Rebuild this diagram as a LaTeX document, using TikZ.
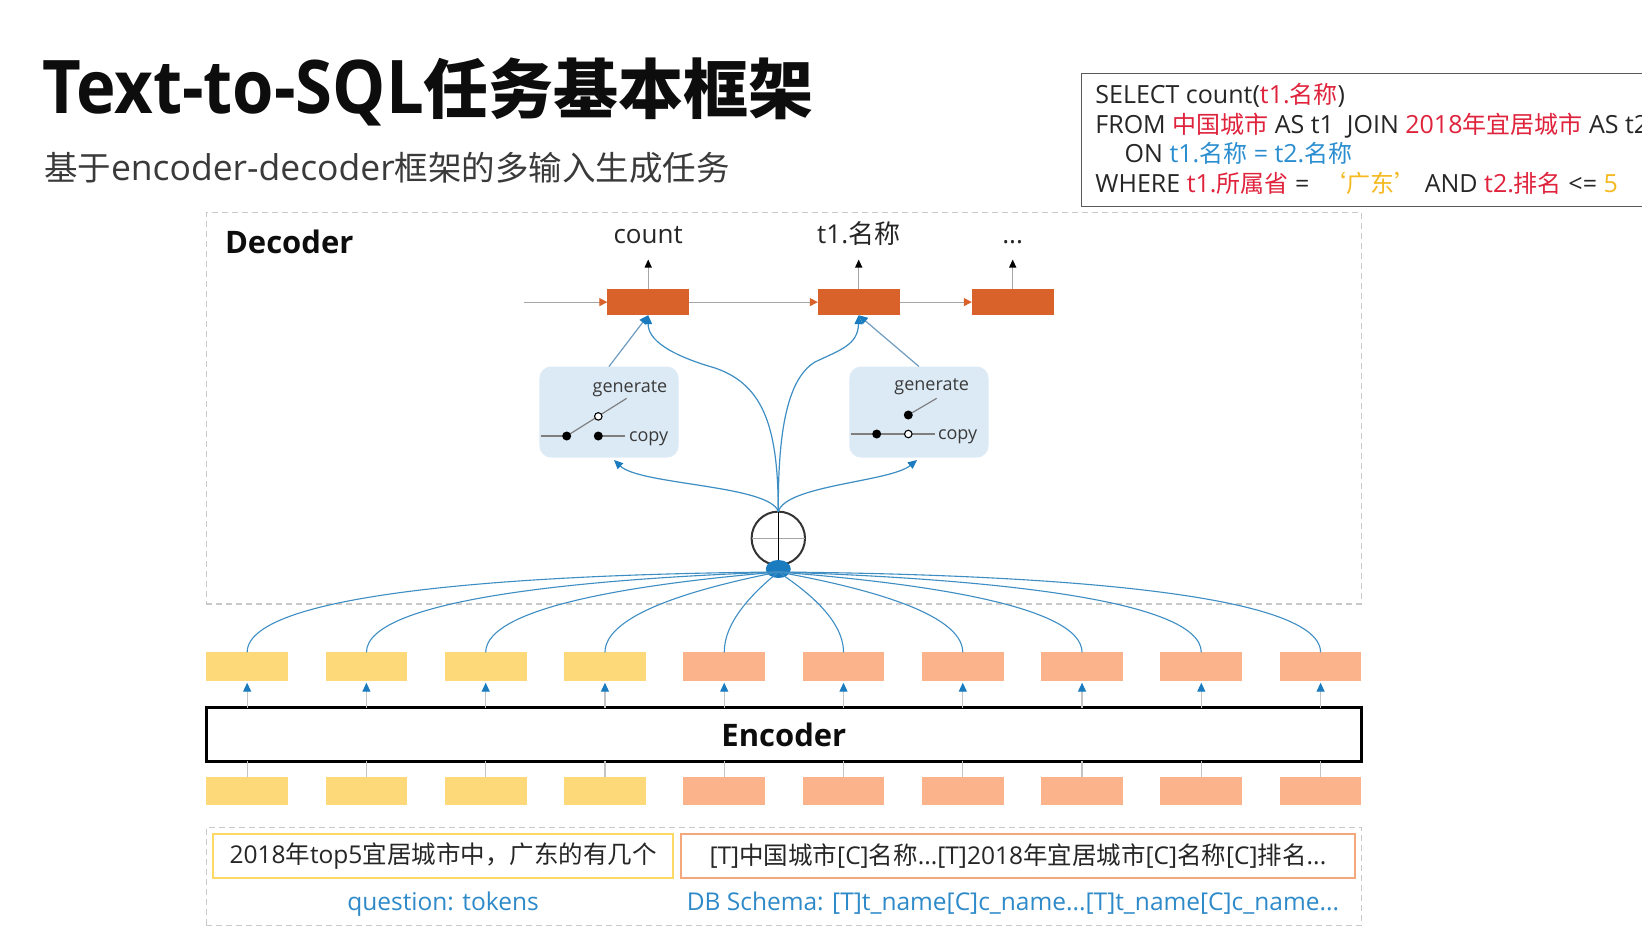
\documentclass[tikz,border=0pt]{standalone}
\usepackage{graphicx}
\usepackage{fontspec}
\setmainfont{Open Sans}
\newfontfamily\cjk{Noto Sans CJK SC}
\usetikzlibrary{arrows.meta}
% CJK run at the current size, or at an explicit size
\newcommand\C[1]{{\cjk #1}}
\newcommand\Cf[2]{{\cjk\fontsize{#1}{#1}\selectfont #2}}
\newcommand\fsz[1]{\fontsize{#1}{#1}\selectfont}

\definecolor{titleBlack}{HTML}{0D0D0D}
\definecolor{txtGrey}{HTML}{262626}
\definecolor{subGrey}{HTML}{3A3A3A}
\definecolor{decOrange}{HTML}{D9622B}
\definecolor{encYellow}{HTML}{FED97A}
\definecolor{encSalmon}{HTML}{FBB38B}
\definecolor{swBlue}{HTML}{DCEAF6}
\definecolor{lineBlue}{HTML}{3E8EC4}
\definecolor{tipBlue}{HTML}{1A7BBF}
\definecolor{gateLine}{HTML}{6E9CC0}
\definecolor{greyLine}{HTML}{A6A6A6}
\definecolor{lightLine}{HTML}{C4C4C4}
\definecolor{wireGrey}{HTML}{7F7F7F}
\definecolor{dashGrey}{HTML}{C9C9C9}
\definecolor{qBorder}{HTML}{FFD966}
\definecolor{sBorder}{HTML}{F4A77A}
\definecolor{labelBlue}{HTML}{2F8AC9}
\definecolor{sqlRed}{HTML}{E0233C}
\definecolor{sqlBlue}{HTML}{2B8ED0}
\definecolor{sqlYellow}{HTML}{F5B921}
\definecolor{sqlFrame}{HTML}{595959}

\begin{document}
\begin{tikzpicture}[x=1pt,y=-1pt,
  every node/.style={inner sep=0pt,outer sep=0pt,text=txtGrey},
  cellD/.style={fill=decOrange,minimum width=81.7pt,minimum height=26.2pt},
  cellE/.style={minimum width=81.7pt,minimum height=28.3pt},
  switchbox/.style={fill=swBlue,rounded corners=12pt,minimum width=139.3pt,minimum height=91.1pt},
  dashframe/.style={draw=dashGrey,line width=1.5pt,dash pattern=on 6pt off 4pt},
  recur/.style={draw=greyLine,line width=1.2pt,-{Triangle[length=8pt,width=8pt,color=decOrange]}},
  outarrow/.style={draw=greyLine,line width=1.2pt,-{Triangle[length=8pt,width=7pt,color=black]}},
  feed/.style={draw=lineBlue,line width=1.2pt,-{Triangle[length=9pt,width=8pt,color=tipBlue]}},
  gate/.style={draw=gateLine,line width=1.2pt,-{Triangle[length=9pt,width=8pt,color=tipBlue]}},
  fan/.style={draw=lineBlue,line width=1.1pt},
  encup/.style={draw=lightLine,line width=1.2pt,-{Triangle[length=9pt,width=8pt,color=tipBlue]},shorten >=2pt},
  encdown/.style={draw=lightLine,line width=1.2pt},
  wire/.style={draw=wireGrey,line width=1.2pt},
  contact/.style={circle,fill=black,minimum size=9pt},
  opencontact/.style={circle,draw=black,fill=white,line width=1.1pt,minimum size=7.5pt},
  swtext/.style={font=\fsz{18},text=subGrey},
  sqltext/.style={anchor=base west,font=\fsz{25},text=txtGrey}]

\useasboundingbox (0,0) rectangle (1642,932);
\clip (0,0) rectangle (1642,932);
\fill[white] (0,0) rectangle (1642,932);

% ---------- heading ----------
\node[anchor=base west,text=titleBlack] (title) at (42,113)
  {\fsz{74}\bfseries\scalebox{0.905}[1]{Text-to-SQL}\Cf{65}{任务基本框架}};
\node[anchor=base west,text=subGrey] (subtitle) at (44,180)
  {\fsz{35.5}\Cf{33.5}{基于}encoder-decoder\Cf{33.5}{框架的多输入生成任务}};

% ---------- SQL example ----------
\node[draw=sqlFrame,line width=1.5pt,anchor=north west,minimum width=590pt,minimum height=133pt] (sql) at (1081.7,73.3) {};
\node[sqltext] (sql1) at (1095.4,103.8)
  {SELECT count(\textcolor{sqlRed}{t1.\Cf{24}{名称}})};
\node[sqltext] (sql2) at (1095.4,133.1)
  {FROM \textcolor{sqlRed}{\Cf{24}{中国城市}} AS t1\ \ JOIN \textcolor{sqlRed}{2018\Cf{24}{年宜居城市}} AS t2};
\node[sqltext] (sql3) at (1124.7,162.4)
  {ON \textcolor{sqlBlue}{t1.\Cf{24}{名称} = t2.\Cf{24}{名称}}};
\node[sqltext] (sql4) at (1095.4,192.8)
  {WHERE \textcolor{sqlRed}{t1.\Cf{24}{所属省}} =\ \ \textcolor{sqlYellow}{\Cf{24}{‘广东’}} AND \textcolor{sqlRed}{t2.\Cf{24}{排名}} <= \textcolor{sqlYellow}{5}};

% ---------- decoder ----------
\node[dashframe,anchor=north west,minimum width=1155.1pt,minimum height=391.6pt] (decframe) at (206.3,212.6) {};
\node[anchor=base west,text=titleBlack] (declabel) at (225,253) {\fsz{31}\bfseries Decoder};

\node[cellD] (d1) at (648.2,302.1) {};
\node[cellD] (d2) at (858.7,302.1) {};
\node[cellD] (d3) at (1012.7,302.1) {};
\coordinate (din) at (523.6,302.1);
\draw[recur] (din) -- (d1.west);
\draw[recur] (d1.east) -- (d2.west);
\draw[recur] (d2.east) -- (d3.west);

\node[anchor=base] (o1) at (648.2,243) {\fsz{26}count};
\node[anchor=base] (o2) at (858.7,243) {\fsz{26}t1.\C{名称}};
\node[anchor=base] (o3) at (1012.7,243) {\fsz{26}...};
\coordinate (o1tip) at (648.2,259.5);
\coordinate (o2tip) at (858.7,259.5);
\coordinate (o3tip) at (1012.7,259.5);
\draw[outarrow] (d1.north) -- (o1tip);
\draw[outarrow] (d2.north) -- (o2tip);
\draw[outarrow] (d3.north) -- (o3tip);

% copy / generate switches
\node[switchbox] (sw1) at (609,412.05) {};
\node[switchbox] (sw2) at (918.95,412.05) {};

% switch 1: arm thrown towards generate
\coordinate (s1lead) at (540.5,436);
\coordinate (s1copy) at (625,436);
\coordinate (s1arm) at (626.7,398.3);
\draw[wire] (s1lead) -- (566.7,436);
\draw[wire] (566.7,436) -- (s1arm);
\draw[wire] (598.3,436) -- (s1copy);
\node[contact] (s1a) at (566.7,436) {};
\node[contact] (s1c) at (598.3,436) {};
\node[opencontact] (s1g) at (598.3,416.4) {};
\node[swtext,anchor=base] (s1gen) at (630,392) {generate};
\node[swtext,anchor=base west] (s1cp) at (629,441) {copy};

% switch 2: arm on the generate contact, copy line open
\coordinate (s2lead) at (850.5,434);
\coordinate (s2copy) at (935,434);
\coordinate (s2arm) at (936.7,398.3);
\draw[wire] (s2lead) -- (s2copy);
\node[contact] (s2a) at (876.7,434) {};
\node[opencontact] (s2c) at (908.3,434) {};
\node[contact] (s2g) at (908.3,415) {};
\draw[wire] (s2g) -- (s2arm);
\node[swtext,anchor=base] (s2gen) at (931.7,390) {generate};
\node[swtext,anchor=base west] (s2cp) at (938,439) {copy};

% attention sum node
\node[circle,draw=black!80,line width=2pt,minimum size=53.4pt] (circ) at (778.3,538.3) {};
\draw[draw=greyLine,line width=1pt] (circ.west) -- (circ.east);
\draw[draw=black,line width=1.2pt] (circ.north) -- (circ.south);
\fill[tipBlue] (778.3,569) ellipse [x radius=12.5pt,y radius=9pt];
\coordinate (cap) at (778.3,572);

% context into the gates and the decoder cells
\coordinate (sw1in) at (614,460);
\coordinate (sw2in) at (917,460);
\draw[feed] (circ.north) .. controls (770,485) and (640,485) .. (sw1in);
\draw[feed] (circ.north) .. controls (786,485) and (890,482) .. (sw2in);
\draw[feed] (circ.north) .. controls (778,430) and (765,385) .. (715,368)
                        .. controls (670,355) and (648,340) .. (d1.south);
\draw[feed] (circ.north) .. controls (778,440) and (785,380) .. (815,362)
                        .. controls (840,350) and (858,345) .. (d2.south);
\draw[gate] (sw1.north) -- (d1.south);
\draw[gate] (sw2.north) -- (d2.south);

% ---------- encoder ----------
\node[draw=black,line width=3pt,minimum width=1155.1pt,minimum height=53.4pt] (enc) at (783.85,734.6)
  {\fsz{31}\bfseries\textcolor{titleBlack}{Encoder}};

\foreach \i in {1,...,10}{
  \pgfmathsetmacro\ex{247.15+(\i-1)*119.27}
  \ifnum\i<5 \def\cc{encYellow}\else\def\cc{encSalmon}\fi
  \node[cellE,fill=\cc] (e\i) at (\ex,666.55) {};
  \node[cellE,fill=\cc] (i\i) at (\ex,791.15) {};
  \draw[encup] (enc.north -| e\i) -- (e\i.south);
  \draw[encdown] (i\i.north) -- (enc.south -| i\i);
}

% attention lines from every encoder state to the sum node
\foreach \i in {1,...,10}{
  \pgfmathsetmacro\ex{247.15+(\i-1)*119.27}
  \pgfmathsetmacro\dx{\ex-778.3}
  \pgfmathsetmacro\adx{min(abs(\dx)/531,1)}
  \pgfmathsetmacro\cax{778.3+0.45*\dx}
  \pgfmathsetmacro\cay{574+20*(1-\adx)}
  \pgfmathsetmacro\cby{652.4-28-34*\adx}
  \draw[fan] (cap) .. controls (\cax,\cay) and (\ex,\cby) .. (e\i.north);
}

% ---------- inputs ----------
\node[dashframe,anchor=north west,minimum width=1155.1pt,minimum height=98.4pt] (inframe) at (206.3,827.3) {};
\node[draw=qBorder,line width=2pt,fill=white,minimum width=460.8pt,minimum height=44pt] (qbox) at (443,855.6)
  {\fsz{24.5}2018\C{年}top5\C{宜居城市中，广东的有几个}};
\node[draw=sBorder,line width=2pt,fill=white,minimum width=674.4pt,minimum height=44pt] (sbox) at (1017.9,855.6)
  {\fsz{24.5}[T]\C{中国城市}[C]\C{名称}...[T]2018\C{年宜居城市}[C]\C{名称}[C]\C{排名}...};
\node[anchor=base,text=labelBlue] (qlabel) at (443,910) {\fsz{24.5}question: tokens};
\node[anchor=base,text=labelBlue] (slabel) at (1013,910)
  {\fsz{24.5}DB Schema: [T]t\_name[C]c\_name...[T]t\_name[C]c\_name...};

\end{tikzpicture}
\end{document}
